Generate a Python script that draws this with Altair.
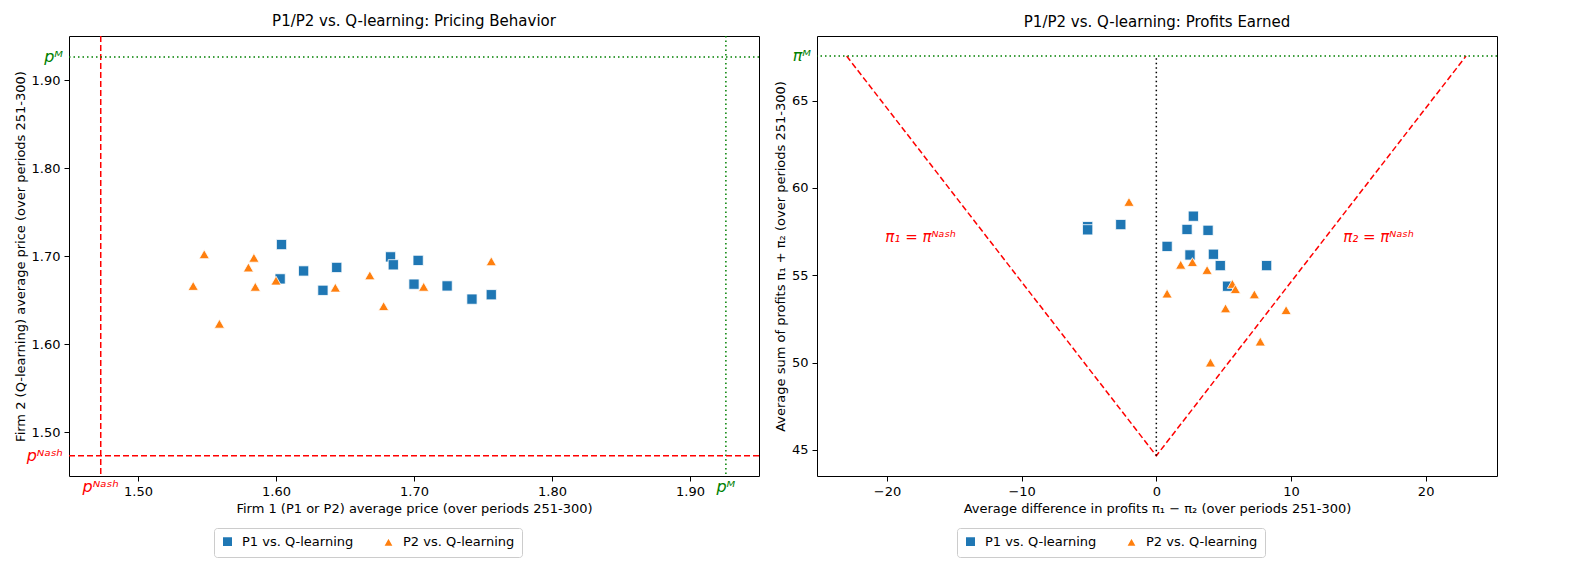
import altair as alt
import pandas as pd

P_NASH = 1.473
P_MONO = 1.926
PI_NASH = 44.66
PI_MONO = 67.55

series_names = ["P1 vs. Q-learning", "P2 vs. Q-learning"]

# left panel: average prices
p1_x = [1.604, 1.603, 1.620, 1.634, 1.644, 1.683, 1.685, 1.703, 1.700, 1.724, 1.742, 1.756]
p1_y = [1.713, 1.674, 1.683, 1.661, 1.687, 1.699, 1.690, 1.695, 1.668, 1.666, 1.651, 1.656]
p2_x = [1.540, 1.548, 1.559, 1.580, 1.584, 1.585, 1.600, 1.643, 1.668, 1.678, 1.707, 1.756]
p2_y = [1.666, 1.702, 1.623, 1.687, 1.698, 1.665, 1.672, 1.664, 1.678, 1.643, 1.665, 1.694]

# right panel: profit difference vs profit sum
p1_diff = [-5.1, -5.1, -2.64, 2.75, 2.28, 3.84, 0.80, 2.5, 4.24, 4.75, 8.19, 5.29]
p1_sum = [57.78, 57.6, 57.9, 58.38, 57.62, 57.57, 56.65, 56.16, 56.2, 55.55, 55.55, 54.37]
p2_diff = [-2.03, 1.81, 2.68, 3.77, 5.65, 5.87, 0.80, 7.28, 5.14, 9.64, 7.72, 4.02]
p2_sum = [59.2, 55.6, 55.75, 55.3, 54.5, 54.2, 53.95, 53.9, 53.1, 53.0, 51.2, 50.0]

FONT = "DejaVu Sans"
W1, W2, H = 690, 680, 440

prices = pd.DataFrame({
    "x": p1_x + p2_x,
    "y": p1_y + p2_y,
    "series": [series_names[0]] * len(p1_x) + [series_names[1]] * len(p2_x),
})
profits = pd.DataFrame({
    "x": p1_diff + p2_diff,
    "y": p1_sum + p2_sum,
    "series": [series_names[0]] * len(p1_diff) + [series_names[1]] * len(p2_diff),
})


def make_color(w):
    return alt.Color("series:N", title=None,
                     scale=alt.Scale(domain=series_names, range=["#1f77b4", "#ff7f0e"]),
                     legend=alt.Legend(orient="none", legendX=w / 2 - 200, legendY=H + 52,
                                       direction="horizontal", symbolSize=110,
                                       labelFontSize=13, strokeColor="#cccccc", padding=7,
                                       cornerRadius=3, columnPadding=26, labelOffset=8))


shape = alt.Shape("series:N", scale=alt.Scale(domain=series_names, range=["square", "triangle-up"]),
                  legend=None)


def scatter(df, w, xscale, yscale, xvals, yvals, xtitle, ytitle, fmt):
    return alt.Chart(df).mark_point(filled=True, size=105, opacity=1, stroke="white",
                                    strokeWidth=0.8).encode(
        x=alt.X("x:Q", scale=xscale, title=xtitle,
                axis=alt.Axis(values=xvals, format=fmt, grid=False)),
        y=alt.Y("y:Q", scale=yscale, title=ytitle,
                axis=alt.Axis(values=yvals, format=fmt, grid=False)),
        color=make_color(w),
        shape=shape,
    )


# ---- left panel
xs1 = alt.Scale(domain=[1.45, 1.95], nice=False, zero=False)
ys1 = alt.Scale(domain=[1.45, 1.95], nice=False, zero=False)
ticks1 = [1.5, 1.6, 1.7, 1.8, 1.9]
left_pts = scatter(prices, W1, xs1, ys1, ticks1, ticks1,
                   "Firm 1 (P1 or P2) average price (over periods 251-300)",
                   "Firm 2 (Q-learning) average price (over periods 251-300)", ".2f")

ref1 = pd.DataFrame({"v": [P_NASH, P_MONO], "c": ["red", "green"], "d": ["dash", "dot"]})
dash_scale = alt.Scale(domain=["dash", "dot"], range=[[6, 3], [1.5, 3]])
vlines1 = alt.Chart(ref1).mark_rule(strokeWidth=1.5).encode(
    x=alt.X("v:Q", scale=xs1), color=alt.Color("c:N", scale=None),
    strokeDash=alt.StrokeDash("d:N", scale=dash_scale, legend=None))
hlines1 = alt.Chart(ref1).mark_rule(strokeWidth=1.5).encode(
    y=alt.Y("v:Q", scale=ys1), color=alt.Color("c:N", scale=None),
    strokeDash=alt.StrokeDash("d:N", scale=dash_scale, legend=None))

lab1 = pd.DataFrame({"v": [P_NASH, P_MONO], "t": ["pᴺᵃˢʰ", "pᴹ"], "c": ["red", "green"]})
xlab1 = alt.Chart(lab1).mark_text(fontSize=16, fontStyle="italic", font=FONT, baseline="top").encode(
    x=alt.X("v:Q", scale=xs1), y=alt.value(H + 3), text="t:N", color=alt.Color("c:N", scale=None))
ylab1 = alt.Chart(lab1).mark_text(fontSize=16, fontStyle="italic", font=FONT, align="right").encode(
    y=alt.Y("v:Q", scale=ys1), x=alt.value(-6), text="t:N", color=alt.Color("c:N", scale=None))

left = alt.layer(vlines1, hlines1, left_pts, xlab1, ylab1).properties(
    width=W1, height=H, title="P1/P2 vs. Q-learning: Pricing Behavior")

# ---- right panel
xs2 = alt.Scale(domain=[-25.2, 25.3], nice=False, zero=False)
ys2 = alt.Scale(domain=[43.5, 68.7], nice=False, zero=False)
right_pts = scatter(profits, W2, xs2, ys2, [-20, -10, 0, 10, 20], [45, 50, 55, 60, 65],
                    "Average difference in profits π₁ − π₂ (over periods 251-300)",
                    "Average sum of profits π₁ + π₂ (over periods 251-300)", "d")

vshape = pd.DataFrame({"x": [-23, 0, 23], "y": [PI_MONO, PI_NASH, PI_MONO], "o": [0, 1, 2]})
v_line = alt.Chart(vshape).mark_line(color="red", strokeDash=[6, 3], strokeWidth=1.5).encode(
    x=alt.X("x:Q", scale=xs2), y=alt.Y("y:Q", scale=ys2), order="o:O")
zero = pd.DataFrame({"x": [0], "y": [PI_NASH], "y2": [PI_MONO]})
zero_line = alt.Chart(zero).mark_rule(color="black", strokeDash=[1.5, 3], strokeWidth=1.5).encode(
    x=alt.X("x:Q", scale=xs2), y=alt.Y("y:Q", scale=ys2), y2="y2:Q")
mono = pd.DataFrame({"y": [PI_MONO]})
mono_line = alt.Chart(mono).mark_rule(color="green", strokeDash=[1.5, 3], strokeWidth=1.5).encode(
    y=alt.Y("y:Q", scale=ys2))
mono_lab = alt.Chart(pd.DataFrame({"y": [PI_MONO], "t": ["πᴹ"]})).mark_text(
    fontSize=16, fontStyle="italic", font=FONT, align="right", color="green").encode(
    y=alt.Y("y:Q", scale=ys2), x=alt.value(-6), text="t:N")
nash_labs = pd.DataFrame({"x": [-17.5, 16.5], "y": [57.2, 57.2], "t": ["π₁ = πᴺᵃˢʰ", "π₂ = πᴺᵃˢʰ"]})
nash_text = alt.Chart(nash_labs).mark_text(fontSize=15, fontStyle="italic", font=FONT, color="red").encode(
    x=alt.X("x:Q", scale=xs2), y=alt.Y("y:Q", scale=ys2), text="t:N")

right = alt.layer(v_line, zero_line, mono_line, right_pts, mono_lab, nash_text).properties(
    width=W2, height=H, title="P1/P2 vs. Q-learning: Profits Earned")

chart = alt.hconcat(left, right, spacing=12).resolve_scale(
    color="independent", shape="independent", strokeDash="independent"
).resolve_legend(color="independent", shape="independent").configure_view(
    stroke="black", strokeWidth=1
).configure_axis(
    labelFont=FONT, titleFont=FONT, labelFontSize=13, titleFontSize=13,
    labelColor="black", titleColor="black", tickColor="black", domain=False,
    titleFontWeight="normal", labelPadding=4
).configure_title(font=FONT, fontSize=15, fontWeight="normal", offset=6).configure_legend(labelFont=FONT)

chart.save("out.html", embed_options={"renderer": "svg", "actions": False})
